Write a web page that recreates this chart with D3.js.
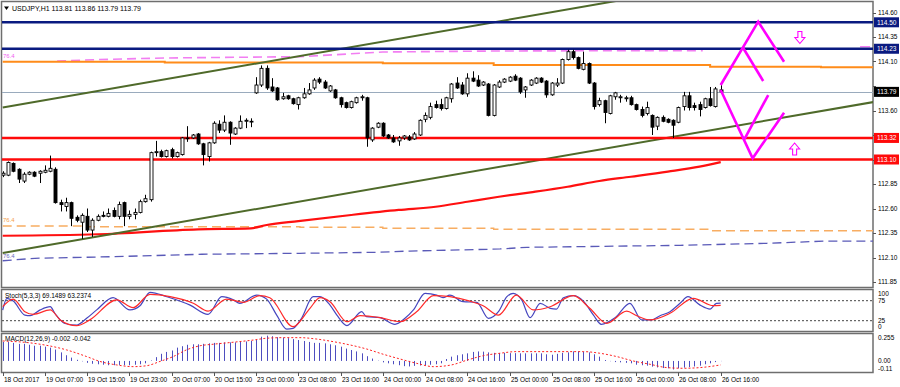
<!DOCTYPE html>
<html>
<head>
<meta charset="utf-8">
<script src="https://cdn.jsdelivr.net/npm/d3@7"></script>
<style>
body { margin: 0; background: #fff; }
svg text { font-family: "Liberation Sans", Arial, sans-serif; font-size: 6.5px; fill: #000; }
</style>
</head>
<body>
<div id="chart"></div>
<script>
// ---- data (USDJPY H1, bars 0..136) ----
var opens = [112.94,112.94,113.06,113.00,112.88,112.95,112.97,112.96,112.97,112.98,
 113.00,112.66,112.62,112.66,112.51,112.46,112.52,112.38,112.48,112.53,
 112.52,112.58,112.52,112.66,112.52,112.54,112.56,112.67,112.69,113.17,
 113.18,113.13,113.20,113.13,113.15,113.32,113.32,113.36,113.26,113.13,
 113.27,113.46,113.40,113.48,113.36,113.42,113.49,113.49,113.78,113.86,
 114.03,113.84,113.83,113.72,113.75,113.72,113.66,113.73,113.77,113.83,
 113.92,113.89,113.80,113.81,113.73,113.68,113.63,113.68,113.73,113.73,
 113.30,113.43,113.47,113.35,113.32,113.29,113.32,113.33,113.31,113.35,
 113.51,113.53,113.66,113.66,113.62,113.72,113.88,113.86,113.77,113.93,
 113.91,113.86,113.87,113.55,113.84,113.89,113.90,113.95,113.93,113.81,
 113.86,113.88,113.93,113.90,113.76,113.86,113.88,114.12,114.20,114.14,
 114.02,114.08,113.88,113.66,113.70,113.57,113.74,113.73,113.72,113.73,
 113.66,113.61,113.57,113.55,113.44,113.53,113.51,113.50,113.48,113.64,
 113.75,113.65,113.66,113.63,113.72,113.64,113.81];
var highs = [112.98,113.08,113.07,113.01,112.97,112.98,112.98,112.99,113.04,113.14,
 113.02,112.69,112.71,112.67,112.53,112.55,112.60,112.50,112.54,112.57,
 112.60,112.61,112.67,112.67,112.58,112.60,112.69,112.74,113.18,113.29,
 113.20,113.20,113.22,113.18,113.33,113.44,113.36,113.37,113.27,113.28,
 113.49,113.50,113.55,113.49,113.43,113.55,113.52,113.52,113.94,114.06,
 114.06,113.93,113.84,113.78,113.76,113.73,113.74,113.83,113.88,113.93,
 113.94,113.91,113.86,113.82,113.74,113.69,113.70,113.74,113.76,113.74,
 113.43,113.48,113.48,113.36,113.35,113.34,113.35,113.35,113.38,113.51,
 113.58,113.68,113.70,113.72,113.74,113.88,113.94,113.89,113.98,114.00,
 113.96,113.90,113.88,113.87,113.91,113.93,113.95,113.97,113.94,113.85,
 113.92,113.94,113.94,113.91,113.89,113.93,114.13,114.22,114.22,114.15,
 114.20,114.09,113.89,113.73,113.71,113.76,113.79,113.76,113.75,113.75,
 113.67,113.64,113.69,113.56,113.54,113.55,113.52,113.51,113.64,113.79,
 113.79,113.68,113.69,113.73,113.84,113.84,113.86];
var lows = [112.92,112.93,112.97,112.86,112.86,112.94,112.92,112.86,112.96,112.97,
 112.65,112.57,112.57,112.42,112.46,112.29,112.36,112.31,112.47,112.51,
 112.51,112.51,112.49,112.42,112.49,112.49,112.55,112.66,112.67,113.13,
 113.12,113.12,113.11,113.12,113.14,113.28,113.31,113.25,113.04,113.08,
 113.26,113.37,113.38,113.25,113.35,113.41,113.42,113.43,113.77,113.84,
 113.81,113.79,113.70,113.71,113.71,113.66,113.61,113.72,113.76,113.81,
 113.87,113.82,113.79,113.72,113.63,113.62,113.62,113.67,113.70,113.23,
 113.28,113.42,113.33,113.31,113.27,113.24,113.30,113.29,113.30,113.34,
 113.48,113.51,113.62,113.60,113.61,113.68,113.82,113.76,113.74,113.89,
 113.84,113.85,113.54,113.54,113.83,113.88,113.89,113.90,113.77,113.73,
 113.85,113.87,113.88,113.73,113.75,113.84,113.87,114.11,114.12,114.02,
 114.01,113.87,113.61,113.64,113.47,113.56,113.71,113.68,113.69,113.65,
 113.60,113.53,113.55,113.35,113.40,113.48,113.47,113.32,113.47,113.60,
 113.60,113.60,113.54,113.62,113.64,113.63,113.79];
var closes = [112.96,113.07,112.98,112.90,112.95,112.97,112.93,112.98,112.99,113.01,
 112.66,112.64,112.66,112.50,112.48,112.53,112.38,112.48,112.52,112.52,
 112.55,112.52,112.64,112.52,112.54,112.56,112.67,112.70,113.17,113.18,
 113.13,113.19,113.13,113.17,113.32,113.32,113.35,113.26,113.15,113.27,
 113.47,113.40,113.48,113.37,113.42,113.49,113.50,113.49,113.86,114.03,
 113.83,113.80,113.71,113.74,113.72,113.67,113.73,113.77,113.81,113.91,
 113.89,113.83,113.85,113.73,113.66,113.63,113.69,113.73,113.74,113.32,
 113.42,113.47,113.34,113.32,113.28,113.32,113.34,113.30,113.36,113.50,
 113.55,113.64,113.63,113.62,113.73,113.87,113.83,113.77,113.93,113.90,
 113.85,113.89,113.55,113.86,113.89,113.92,113.94,113.91,113.79,113.84,
 113.91,113.93,113.89,113.76,113.88,113.88,114.12,114.20,114.14,114.03,
 114.08,113.88,113.64,113.70,113.58,113.75,113.78,113.74,113.73,113.66,
 113.61,113.55,113.63,113.43,113.53,113.49,113.48,113.45,113.63,113.75,
 113.63,113.63,113.61,113.72,113.65,113.82,113.79];

var timeLabels = ["18 Oct 2017","19 Oct 07:00","19 Oct 15:00","19 Oct 23:00","20 Oct 07:00","20 Oct 15:00",
 "23 Oct 00:00","23 Oct 08:00","23 Oct 16:00","24 Oct 00:00","24 Oct 08:00","24 Oct 16:00",
 "25 Oct 00:00","25 Oct 08:00","25 Oct 16:00","26 Oct 00:00","26 Oct 08:00","26 Oct 16:00"];
var priceTicks = [114.60,114.35,114.10,113.85,113.60,113.35,113.10,112.85,112.60,112.35,112.10,111.85];

// horizontal levels
var navyLevels = [114.50, 114.23];
var redLevels = [113.32, 113.10];
var bidPrice = 113.79;

// moving average (red)
var maBars = [0,18,37,47,50,56,66,75,82,88,94,100,107,113,119,126,132,136];
var maVals = [112.322,112.337,112.388,112.398,112.432,112.472,112.534,112.585,112.618,112.669,112.720,112.765,112.822,112.881,112.924,112.976,113.027,113.074];

// envelope-style lines
var orangeBars = [0,30.7,72,93,134,155,165];
var orangeVals = [114.098,114.090,114.082,114.064,114.047,114.041,114.041];
var magentaBars = [10.3,18.4,30.7,56.3,72,93,113,132.6];
var magentaVals = [114.105,114.120,114.136,114.149,114.197,114.207,114.210,114.210];
var magentaShortBars = [162.4, 164.3];
var magentaShortVals = [114.251, 114.251];
var fibOrangeBars = [0,15.2,56.3,72,93,134,165];
var fibOrangeVals = [112.421,112.414,112.408,112.398,112.388,112.373,112.373];
var fibBlueBars = [0,6.1,20.7,37.7,56.3,70.9,77.1,86.6,94.2,99.3,128.3,144.7,156.1,165];
var fibBlueVals = [112.067,112.092,112.108,112.133,112.143,112.153,112.166,112.177,112.187,112.204,112.224,112.245,112.268,112.268];

// trend channel
var trendUpper = [[0,113.63],[125,114.80]];
var trendLower = [[0,112.146],[165,113.687]];

// forecast zigzags
var zigUp = [[136,113.86],[143.1,114.506],[148.0,114.098]];
var zigUp2 = [[140.15,114.248],[144.05,113.901]];
var zigDown = [[136,113.809],[142.05,113.112],[148.0,113.578]];
var zigDown2 = [[140.5,113.309],[145.0,113.758]];
var arrowDown = [151.0, 114.345];
var arrowUp = [150.0, 113.207];

// stochastic (5,3,3)
var stochKBars = [0,0.8,2,4.2,5.2,7.1,9,9.9,11.8,14,15.9,17.8,20.9,24.1,26,27.9,31.1,35.5,38.9,41.5,
 43.7,44.9,48.1,50,51.9,53.8,55,56.6,58.8,60.1,62,63.3,65.2,68,68.9,71.5,74.3,76.2,77.8,80,
 82.2,83.4,84.7,87.2,89.8,92,93.9,95.5,96.7,98.3,99.9,101.8,103.7,104.9,106.2,108.1,110,111.9,113.4,116,
 118.8,121,122.9,124.5,126.4,128.3,129.8,132.1,134,135.2,136];
var stochK = [51.7,81,74,39,37.5,52,60,43,18,14,31,52,82.5,52,62.5,96,85,64,41,85,
 77,68.5,89,79,39,4,6,31,85,85,64,39,12.5,47.5,35,32.5,16,31,52,93.5,
 89,82.5,89,72.5,71,31,47.5,85,93.5,77,32.5,68.5,56,54,82.5,87.5,74,39,16,32.5,
 68.5,27,27,37.5,47.5,68.5,85,64,54,68.5,69.1];
var stochDBars = [0,2,4.2,5.8,9,10.9,14,16.5,21.6,24.7,27.9,31.7,36.1,38.9,42.4,45.6,48.7,50.6,55,58.2,
 60.1,62,65.2,67.7,71.5,75.3,78.4,81.6,84.7,88.5,91,93.9,97.3,100.5,103.7,108.1,111.2,114.4,118.2,120.1,
 122.6,126.4,130.8,134.6,136];
var stochD = [60,79,47.5,41,52,27,12.5,27,77,57.5,91,85,68.5,49,79,71,87.5,82.5,10,56,
 82.5,72.5,22.5,37.5,32.5,22.5,47.5,87.5,85,74,62.5,39,89,52,60,87.5,56,18.5,49,37.5,
 27,43.5,81,62.5,63.2];
var stochLevels = [100,75,25,0];

// MACD (12,26,9)
var macdHist = [0.20,0.20,0.19,0.18,0.18,0.17,0.16,0.16,0.15,0.14,
 0.12,0.09,0.06,0.035,0.012,-0.004,-0.02,-0.03,-0.035,-0.04,
 -0.045,-0.045,-0.042,-0.045,-0.045,-0.04,-0.035,-0.025,0.005,0.04,
 0.075,0.095,0.11,0.14,0.155,0.17,0.175,0.175,0.18,0.185,
 0.19,0.19,0.195,0.195,0.195,0.20,0.205,0.21,0.22,0.255,
 0.266,0.26,0.25,0.245,0.24,0.23,0.22,0.21,0.20,0.19,
 0.19,0.185,0.175,0.165,0.15,0.13,0.115,0.10,0.08,0.05,
 0.025,0.003,-0.015,-0.025,-0.035,-0.045,-0.055,-0.058,-0.052,-0.048,
 -0.045,-0.04,-0.035,-0.025,0.02,0.045,0.06,0.07,0.08,0.095,
 0.10,0.098,0.09,0.085,0.082,0.085,0.082,0.082,0.08,0.08,
 0.08,0.08,0.08,0.07,0.065,0.075,0.085,0.09,0.10,0.10,
 0.098,0.09,0.07,0.045,0.01,-0.003,-0.012,-0.015,-0.02,-0.025,
 -0.04,-0.045,-0.05,-0.06,-0.068,-0.075,-0.077,-0.09,-0.077,-0.07,
 -0.065,-0.058,-0.05,-0.035,-0.025,-0.012,-0.002];
var signalBars = [0,5.8,12.1,15.9,18.4,21.6,24.7,27.3,29.8,32.3,34.8,37.4,39.9,43.7,47.5,50,53.2,56.3,59.5,62.6,
 65.8,68.9,72.1,75.3,78.4,81.6,85,88.1,91.1,94.2,97.3,103.7,110,113.1,116.3,119.4,122.6,125.8,128.9,132.1,136];
var signalVals = [0.21,0.186,0.116,0.046,-0.005,-0.042,-0.06,-0.05,-0.005,0.046,0.116,0.16,0.176,0.197,0.22,0.239,0.245,0.245,0.23,0.203,
 0.168,0.126,0.07,0.02,-0.025,-0.06,-0.042,0.011,0.056,0.081,0.098,0.098,0.098,0.081,0.046,0,-0.035,-0.07,-0.077,-0.07,-0.042];
var macdLevels = [0.255, 0.00, -0.11];
var macdLevelText = ["0.255", "0.00", "-0.11"];

// ---- layout ----
var W = 900, H = 387;
var right = 873;
var mainTop = 1.5, mainBottom = 287.5;
var stTop = 289.5, stBottom = 331.5;
var mcTop = 333.5, mcBottom = 372.5;

var svg = d3.select("#chart").append("svg")
    .attr("width", W)
    .attr("height", H);

var x = d3.scaleLinear().domain([0, 136]).range([2.7, 720.7]);
var y = d3.scaleLinear().domain([111.85, 114.60]).range([282, 12.5]);
var ys = d3.scaleLinear().domain([0, 100]).range([330.7, 290.7]);
var ym = d3.scaleLinear().domain([-0.11, 0.255]).range([371.4, 336.7]);

function zipPts(bars, vals) {
    return bars.map(function(b, i) { return [b, vals[i]]; });
}

// clip paths
var defs = svg.append("defs");
defs.append("clipPath").attr("id", "clipMain").append("rect")
    .attr("x", 2).attr("y", 2).attr("width", right - 2).attr("height", mainBottom - 2);
defs.append("clipPath").attr("id", "clipSt").append("rect")
    .attr("x", 2).attr("y", stTop).attr("width", right - 2).attr("height", stBottom - stTop);
defs.append("clipPath").attr("id", "clipMc").append("rect")
    .attr("x", 2).attr("y", mcTop).attr("width", right - 2).attr("height", mcBottom - mcTop);

// pane frames
[[mainTop, mainBottom], [stTop, stBottom], [mcTop, mcBottom]].forEach(function(p) {
    svg.append("rect")
        .attr("x", 1.5).attr("y", p[0])
        .attr("width", right - 1.5).attr("height", p[1] - p[0])
        .style("fill", "none")
        .style("stroke", "#6e6e6e")
        .style("stroke-width", 1.5);
});

var main = svg.append("g").attr("clip-path", "url(#clipMain)");

var priceLine = d3.line()
    .x(function(d) { return x(d[0]); })
    .y(function(d) { return y(d[1]); });
var stepLine = d3.line()
    .x(function(d) { return x(d[0]); })
    .y(function(d) { return y(d[1]); })
    .curve(d3.curveStepAfter);

// bid line
main.append("line")
    .attr("x1", 2).attr("x2", right)
    .attr("y1", Math.round(y(bidPrice)) + 0.5).attr("y2", Math.round(y(bidPrice)) + 0.5)
    .style("stroke", "#9aabbd").style("stroke-width", 1);

// fib / envelope dashed lines
main.append("path")
    .attr("d", stepLine(zipPts(fibOrangeBars, fibOrangeVals)))
    .style("fill", "none").style("stroke", "#f8ad62").style("stroke-width", 1.4)
    .style("stroke-dasharray", "9,5");
main.append("path")
    .attr("d", priceLine(zipPts(fibBlueBars, fibBlueVals)))
    .style("fill", "none").style("stroke", "#5a5ab8").style("stroke-width", 1.3)
    .style("stroke-dasharray", "9,5");
main.append("path")
    .attr("d", priceLine(zipPts(magentaBars, magentaVals)))
    .style("fill", "none").style("stroke", "#f27ef2").style("stroke-width", 1.6)
    .style("stroke-dasharray", "9,5");
main.append("path")
    .attr("d", priceLine(zipPts(magentaShortBars, magentaShortVals)))
    .style("fill", "none").style("stroke", "#f27ef2").style("stroke-width", 1.6);
main.append("path")
    .attr("d", stepLine(zipPts(orangeBars, orangeVals)))
    .style("fill", "none").style("stroke", "#ff8c1a").style("stroke-width", 2);

// fib labels
main.append("text").attr("x", 3).attr("y", y(magentaVals[0]) - 3)
    .text("76.4").style("fill", "#f060f0").style("font-size", "6px");
main.append("text").attr("x", 3).attr("y", y(fibOrangeVals[0]) - 4)
    .text("76.4").style("fill", "#f5a04c").style("font-size", "6px");
main.append("text").attr("x", 3).attr("y", y(fibBlueVals[0]) - 3)
    .text("76.4").style("fill", "#6a6ac0").style("font-size", "6px");

// moving average
main.append("path")
    .attr("d", d3.line().curve(d3.curveMonotoneX)
        .x(function(d) { return x(d[0]); })
        .y(function(d) { return y(d[1]); })(zipPts(maBars, maVals)))
    .style("fill", "none").style("stroke", "#ff1010").style("stroke-width", 2.2);

// trend channel
[trendUpper, trendLower].forEach(function(t) {
    main.append("path")
        .attr("d", priceLine(t))
        .style("fill", "none").style("stroke", "#4f6a2a").style("stroke-width", 2);
});

// horizontal levels
navyLevels.forEach(function(p) {
    main.append("line")
        .attr("x1", 2).attr("x2", right)
        .attr("y1", y(p)).attr("y2", y(p))
        .style("stroke", "#0a1a80").style("stroke-width", 2.6);
});
redLevels.forEach(function(p) {
    main.append("line")
        .attr("x1", 2).attr("x2", right)
        .attr("y1", y(p)).attr("y2", y(p))
        .style("stroke", "#ff0a0a").style("stroke-width", 2.6);
});

// candles
var candles = d3.range(opens.length).map(function(i) {
    return {i: i, o: opens[i], h: highs[i], l: lows[i], c: closes[i]};
});
var cg = main.append("g");
cg.selectAll(".wick").data(candles).enter().append("line")
    .attr("class", "wick")
    .attr("x1", function(d) { return Math.round(x(d.i)) + 0.5; })
    .attr("x2", function(d) { return Math.round(x(d.i)) + 0.5; })
    .attr("y1", function(d) { return y(d.h); })
    .attr("y2", function(d) { return y(d.l); })
    .style("stroke", "#000").style("stroke-width", 1);
cg.selectAll(".body").data(candles).enter().append("rect")
    .attr("class", "body")
    .attr("x", function(d) { return Math.round(x(d.i)) - 1; })
    .attr("width", 3)
    .attr("y", function(d) { return y(Math.max(d.o, d.c)); })
    .attr("height", function(d) { return Math.max(0.8, Math.abs(y(d.o) - y(d.c))); })
    .style("fill", function(d) { return d.c >= d.o ? "#fff" : "#000"; })
    .style("stroke", "#000").style("stroke-width", 0.9);

// zigzag forecast
[zigUp, zigUp2, zigDown, zigDown2].forEach(function(z) {
    main.append("path")
        .attr("d", priceLine(z))
        .style("fill", "none").style("stroke", "#ff00ff").style("stroke-width", 2.6)
        .style("stroke-linejoin", "miter");
});

function drawArrow(pos, dir) {
    var s = dir;
    var pts = [[-2,-6*s],[2,-6*s],[2,0],[5,0],[0,6*s],[-5,0],[-2,0]];
    main.append("path")
        .attr("transform", "translate(" + x(pos[0]) + "," + y(pos[1]) + ")")
        .attr("d", "M" + pts.map(function(p) { return p.join(","); }).join("L") + "Z")
        .style("fill", "#fff").style("stroke", "#ff00ff").style("stroke-width", 1.1);
}
drawArrow(arrowDown, 1);
drawArrow(arrowUp, -1);

// header
svg.append("path").attr("d", "M4,6.5L9,6.5L6.5,10Z").style("fill", "#000");
svg.append("text").attr("x", 12).attr("y", 11)
    .text("USDJPY,H1  113.81 113.86 113.79 113.79")
    .style("font-size", "7px");

// price axis (tick labels hidden under a level tag are skipped, as in the terminal)
var tagged = navyLevels.concat(redLevels, [bidPrice]);
var pa = svg.append("g");
priceTicks.forEach(function(p) {
    pa.append("line").attr("x1", right).attr("x2", right + 3)
        .attr("y1", Math.round(y(p)) + 0.5).attr("y2", Math.round(y(p)) + 0.5)
        .style("stroke", "#555");
    var hidden = tagged.some(function(t) { return Math.abs(y(t) - y(p)) < 9; });
    if (!hidden) {
        pa.append("text").attr("x", right + 5).attr("y", y(p)).attr("dy", "0.35em")
            .text(p.toFixed(2));
    }
});

function levelTag(p, bg) {
    pa.append("rect").attr("x", right + 1).attr("y", y(p) - 5)
        .attr("width", 25).attr("height", 10)
        .style("fill", bg);
    pa.append("text").attr("x", right + 4).attr("y", y(p)).attr("dy", "0.35em")
        .text(p.toFixed(2)).style("fill", "#fff");
}
navyLevels.forEach(function(p) { levelTag(p, "#0a1a80"); });
redLevels.forEach(function(p) { levelTag(p, "#ff0a0a"); });
levelTag(bidPrice, "#000");

// stochastic pane
var st = svg.append("g").attr("clip-path", "url(#clipSt)");
[75, 25].forEach(function(v) {
    st.append("line").attr("x1", 2).attr("x2", right)
        .attr("y1", ys(v)).attr("y2", ys(v))
        .style("stroke", "#444").style("stroke-dasharray", "2,2");
});
var sline = d3.line().curve(d3.curveMonotoneX)
    .x(function(d) { return x(d[0]); })
    .y(function(d) { return ys(d[1]); });
st.append("path").attr("d", sline(zipPts(stochKBars, stochK)))
    .style("fill", "none").style("stroke", "#4646bf").style("stroke-width", 1.2);
st.append("path").attr("d", sline(zipPts(stochDBars, stochD)))
    .style("fill", "none").style("stroke", "#ff2a2a").style("stroke-width", 1.2);
svg.append("text").attr("x", 5).attr("y", 298).text("Stoch(5,3,3) 69.1489 63.2374");
stochLevels.forEach(function(v) {
    var yy = Math.max(stTop + 4.5, Math.min(stBottom - 4.5, ys(v)));
    svg.append("text").attr("x", right + 5).attr("y", yy).attr("dy", "0.35em").text(v);
});

// MACD pane
var mc = svg.append("g").attr("clip-path", "url(#clipMc)");
mc.selectAll(".hist").data(macdHist).enter().append("line")
    .attr("class", "hist")
    .attr("x1", function(d, i) { return Math.round(x(i)) + 0.5; })
    .attr("x2", function(d, i) { return Math.round(x(i)) + 0.5; })
    .attr("y1", ym(0))
    .attr("y2", function(d) { return ym(d); })
    .style("stroke", "#4e4ebf").style("stroke-width", 1);
mc.append("path")
    .attr("d", d3.line().curve(d3.curveMonotoneX)
        .x(function(d) { return x(d[0]); })
        .y(function(d) { return ym(d[1]); })(zipPts(signalBars, signalVals)))
    .style("fill", "none").style("stroke", "#ff2020").style("stroke-width", 1)
    .style("stroke-dasharray", "2,2");
svg.append("text").attr("x", 5).attr("y", 341).text("MACD(12,26,9) -0.002 -0.042");
macdLevels.forEach(function(v, i) {
    var yy = Math.max(mcTop + 4, Math.min(mcBottom - 4, ym(v)));
    svg.append("text").attr("x", right + 5).attr("y", yy).attr("dy", "0.35em").text(macdLevelText[i]);
});

// time axis
timeLabels.forEach(function(t, k) {
    var xx = Math.round(x(k * 8)) + 0.5;
    svg.append("line").attr("x1", xx).attr("x2", xx)
        .attr("y1", mcBottom).attr("y2", mcBottom + 3.5)
        .style("stroke", "#555");
    svg.append("text").attr("x", xx + 0.5).attr("y", 381.5).text(t);
});
</script>
</body>
</html>
